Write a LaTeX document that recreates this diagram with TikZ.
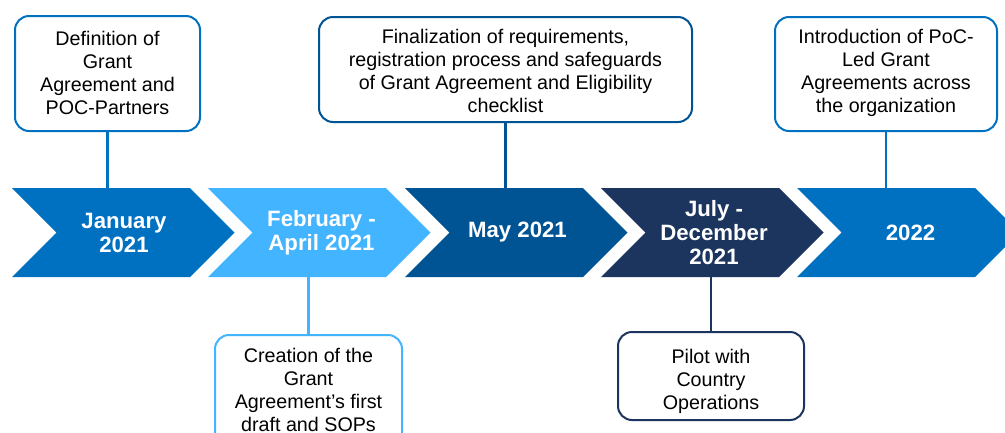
\documentclass[tikz,border=0pt]{standalone}
\usepackage{fontspec}
\setmainfont{Liberation Sans}
\definecolor{cA}{HTML}{0070C0}
\definecolor{cB}{HTML}{43B4FF}
\definecolor{cC}{HTML}{005493}
\definecolor{cD}{HTML}{1C355E}
\newcommand{\mychev}[2]{\fill[#2] (#1,188) -- ++(178,0) -- ++(44.5,44.5) -- ++(-44.5,44.5) -- ++(-178,0) -- ++(44.5,-44.5) -- cycle;}
\begin{document}
\begin{tikzpicture}[x=1pt,y=-1pt,
  box/.style={draw, line width=2pt, rounded corners=14pt, fill=white, inner sep=0pt},
  boxtext/.style={align=center, inner sep=0pt, text=black, font=\fontsize{19.7}{23}\selectfont},
  lbl/.style={text=white, align=center, font=\fontsize{22.2}{24}\selectfont\bfseries},
  conn/.style={line width=2.2pt}]
\clip (0,0) rectangle (1005,432);
\fill[white] (0,0) rectangle (1005,432);
\coordinate (top) at (0,188);
\coordinate (bot) at (0,277);
% chevrons
\mychev{12}{cA}
\mychev{208}{cB}
\mychev{405}{cC}
\mychev{601}{cD}
\mychev{797}{cA}
\node[lbl] (ch1) at (124,232.5) {January\\2021};
\node[lbl] (ch2) at (321.5,232.5) {February -\\April 2021};
\node[lbl] (ch3) at (517.5,232.5) {May 2021};
\node[lbl] (ch4) at (714,232.5) {July -\\December\\2021};
\node[lbl] (ch5) at (910.5,232.5) {2022};
% boxes
\node[box, draw=cA, minimum width=185pt, minimum height=115pt] (b1) at (107.5,73.5) {};
\node[boxtext] (t1) at (107.5,73) {Definition of\\Grant\\Agreement and\\POC-Partners};
\node[box, draw=cC, minimum width=373pt, minimum height=105pt] (b2) at (505.5,69.5) {};
\node[boxtext] (t2) at (505.5,71) {Finalization of requirements,\\registration process and safeguards\\of Grant Agreement and Eligibility\\checklist};
\node[box, draw=cA, minimum width=222pt, minimum height=114pt] (b3) at (886,74) {};
\node[boxtext] (t3) at (886,73) {Introduction of PoC-\\Led Grant\\Agreements across\\the organization};
\node[box, draw=cB, minimum width=187pt, minimum height=114pt] (b4) at (308.5,392) {};
\node[boxtext] (t4) at (308.5,389.5) {Creation of the\\Grant\\Agreement’s first\\draft and SOPs};
\node[box, draw=cD, minimum width=186pt, minimum height=88pt] (b5) at (711,376) {};
\node[boxtext] (t5) at (711,381) {Pilot with\\Country\\Operations};
% connectors
\draw[conn, cA] (b1.south) -- (b1.south |- top);
\draw[conn, cC] (b2.south) -- (b2.south |- top);
\draw[conn, cA] (b3.south) -- (b3.south |- top);
\draw[conn, cB] (b4.north) -- (b4.north |- bot);
\draw[conn, cD] (b5.north) -- (b5.north |- bot);
\end{tikzpicture}
\end{document}
